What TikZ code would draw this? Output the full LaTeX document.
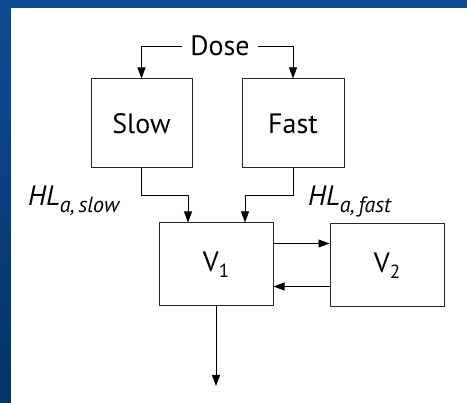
\documentclass[tikz,border=0pt]{standalone}
\usepackage{fontspec}
\setmainfont{PT Sans}
\usetikzlibrary{arrows.meta, positioning, calc}

\tikzset{
  comp/.style={draw=black!85, line width=1pt, fill=white, inner sep=0pt},
  flow/.style={line width=0.9pt, -{Triangle[length=11pt,width=8pt]}},
  txt/.style={font=\fontsize{28}{34}\selectfont}
}
\newcommand{\lsub}[2][19]{\raisebox{-6.5pt}{\fontsize{#1}{22}\selectfont #2}}

\begin{document}
\begin{tikzpicture}[x=1pt,y=-1pt]
\useasboundingbox (0,0) rectangle (467,403);
\shade[top color={rgb,255:red,14;green,74;blue,150}, bottom color={rgb,255:red,4;green,52;blue,104}] (0,0) rectangle (467,403);
\fill[white] (11,8) rectangle (467,403);

\node[txt, inner xsep=8pt] (dose) at (220,46) {Dose};
\node[comp, txt, minimum width=101pt, minimum height=89pt] (slow) at (141.5,123.5) {Slow};
\node[comp, txt, minimum width=102pt, minimum height=89pt] (fast) at (293,123.5) {Fast};
\node[comp, txt, minimum width=114pt, minimum height=83pt] (v1) at (216,264.5) {V\lsub{1}};
\node[comp, txt, minimum width=114pt, minimum height=83pt] (v2) at (387,265.5) {V\lsub{2}};
\coordinate (elim) at (216,386);

\node[txt, anchor=base west, inner sep=0pt] (hlslow) at (28,206) {\textit{HL}\lsub[22]{\textit{a,\,slow}}};
\node[txt, anchor=base west, inner sep=0pt] (hlfast) at (308,206) {\textit{HL}\lsub[22]{\textit{a,\,fast}}};

\draw[flow] (dose.west) -| (slow.north);
\draw[flow] (dose.east) -| (fast.north);
\draw[flow] (slow.south) -- ++(0,27) -| ([xshift=-28pt]v1.north);
\draw[flow] (fast.south) -- ++(0,27) -| ([xshift=29pt]v1.north);
\draw[flow] ([yshift=21pt]v1.east) -- ([yshift=21pt]v1.east -| v2.west);
\draw[flow] ([yshift=-21pt]v2.west) -- ([yshift=-21pt]v2.west -| v1.east);
\draw[flow] (v1.south) -- (elim);
\end{tikzpicture}
\end{document}
